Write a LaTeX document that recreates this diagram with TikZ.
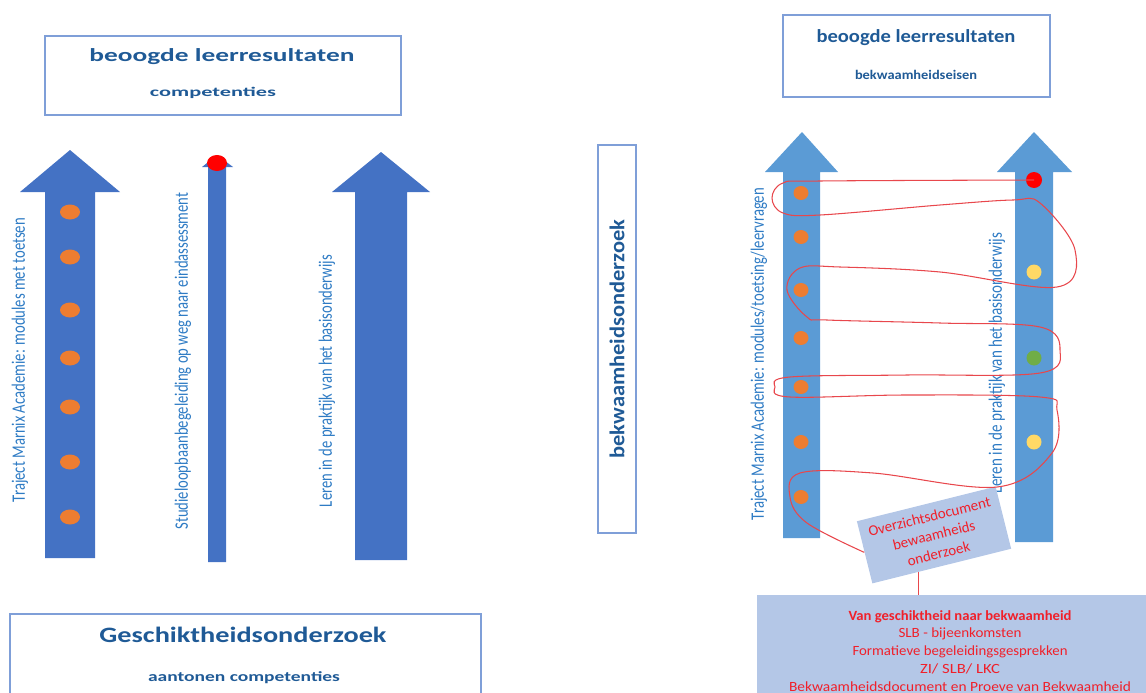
\documentclass[tikz,border=0pt]{standalone}
\usepackage{fontspec}
\setmainfont{Carlito}
\usepackage{graphicx}
\definecolor{arrowblue}{HTML}{4472C4}
\definecolor{lightarrow}{HTML}{5B9BD5}
\definecolor{dotorange}{HTML}{ED7D31}
\definecolor{dotyellow}{HTML}{FFD966}
\definecolor{dotgreen}{HTML}{70AD47}
\definecolor{titleblue}{HTML}{1F5A96}
\definecolor{labelblue}{HTML}{2E7BC4}
\definecolor{boxline}{HTML}{7F9FD8}
\definecolor{paleblue}{HTML}{B4C7E7}
\definecolor{loopred}{HTML}{E8474C}
\definecolor{redtext}{HTML}{F0202A}
\newlength\pxu
\setlength\pxu{0.02cm}
\newcommand{\wtext}[2]{\resizebox{#1\pxu}{\height}{#2}}
\newcommand{\vtext}[2]{\resizebox{#1\pxu}{1.35\height}{#2}}

\begin{document}
\begin{tikzpicture}[x=0.02cm,y=-0.02cm,
  boxframe/.style={draw=boxline, line width=0.6pt},
  ttl/.style={text=titleblue, font=\fontsize{10.5}{12}\selectfont\bfseries, inner sep=0pt},
  sub/.style={text=titleblue, font=\fontsize{7.5}{9}\selectfont\bfseries, inner sep=0pt},
  lbl/.style={text=labelblue, font=\fontsize{8}{9}\selectfont, rotate=90, inner sep=0pt},
  redtxt/.style={text=redtext, font=\fontsize{8}{10.2}\selectfont, align=center, inner sep=0pt},
  loopline/.style={draw=loopred, line width=0.6pt}]
\clip (0,0) rectangle (1146,693);

% left: three arrows
\fill [arrowblue] (45,558) -- (45,192) -- (20,192) -- (70,150) -- (120,192) -- (95,192) -- (95,558) -- cycle;
\fill [arrowblue] (208,562) -- (208,167) -- (202,167) -- (217,155) -- (233,167) -- (226,167) -- (226,562) -- cycle;
\fill [arrowblue] (355,560) -- (355,192) -- (332,192) -- (381,152) -- (430,192) -- (407,192) -- (407,560) -- cycle;

\foreach \y in {212,257,310,358,407,462,517}
  \fill [dotorange] (70,\y) ellipse [x radius=10\pxu, y radius=7.5\pxu];
\fill [red] (217,163) ellipse [x radius=10\pxu, y radius=8\pxu];

\node[lbl] (ltraj) at (20,360) {\vtext{284}{Traject Marnix Academie: modules met toetsen}};
\node[lbl] (lslb) at (183,361) {\vtext{337}{Studieloopbaanbegeleiding op weg naar eindassessment}};
\node[lbl] (lprak) at (327,381) {\vtext{252}{Leren in de praktijk van het basisonderwijs}};

\node[boxframe, minimum width=356\pxu, minimum height=79\pxu] (ltop) at (223,75.5) {};
\node[ttl] (lttl) at (222,57) {\wtext{265}{beoogde leerresultaten}};
\node[sub] (lsub) at (213,93) {\wtext{126}{competenties}};

\node[boxframe, minimum width=471\pxu, minimum height=100\pxu] (gbox) at (245.5,664) {};
\node[ttl, font=\fontsize{12.5}{14}\selectfont\bfseries] (gttl) at (243,635) {\wtext{287}{Geschiktheidsonderzoek}};
\node[sub, font=\fontsize{8}{9}\selectfont\bfseries] (gsub) at (244,678) {\wtext{192}{aantonen competenties}};

% middle
\node[boxframe, rotate=90, minimum width=388\pxu, minimum height=38\pxu, text=titleblue,
  font=\fontsize{12}{14}\selectfont\bfseries] (bko) at (617,339) {\wtext{239}{bekwaamheidsonderzoek}};

% right: two arrows
\fill [lightarrow] (783,538) -- (783,172) -- (765,172) -- (802,132) -- (838,172) -- (820,172) -- (820,538) -- cycle;
\fill [lightarrow] (1015,542) -- (1015,172) -- (997,172) -- (1034,132) -- (1072,172) -- (1053,172) -- (1053,542) -- cycle;

\foreach \y in {193,237,290,338,387,442,497}
  \fill [dotorange] (801,\y) ellipse [x radius=7.5\pxu, y radius=7\pxu];
\coordinate (rdot) at (1034,180);
\fill [red] (rdot) ellipse [x radius=8\pxu, y radius=8\pxu];
\fill [dotyellow] (1034,272) ellipse [x radius=7.5\pxu, y radius=7.5\pxu];
\fill [dotgreen] (1034,358) ellipse [x radius=7.5\pxu, y radius=7.5\pxu];
\fill [dotyellow] (1034,442) ellipse [x radius=7.5\pxu, y radius=7.5\pxu];

\node[lbl] (rtraj) at (759,354) {\vtext{332}{Traject Marnix Academie: modules/toetsing/leervragen}};
\node[lbl] (rprak) at (997,363) {\vtext{260}{Leren in de praktijk van het basisonderwijs}};

\node[boxframe, minimum width=267\pxu, minimum height=82\pxu] (rtop) at (916.5,56) {};
\node[ttl] (rttl) at (916,38) {\wtext{199}{beoogde leerresultaten}};
\node[sub] (rsub) at (916,75) {\wtext{122}{bekwaamheidseisen}};

\node[fill=paleblue, minimum width=400\pxu, minimum height=100\pxu, inner sep=0pt] (bvb) at (957,645) {};
\node[redtxt] (bvbtxt) at (960,651) {\wtext{223}{\bfseries Van geschiktheid naar bekwaamheid}\\
  \wtext{123}{SLB - bijeenkomsten}\\
  \wtext{215}{Formatieve begeleidingsgesprekken}\\
  \wtext{80}{ZI/ SLB/ LKC}\\
  \wtext{342}{Bekwaamheidsdocument en Proeve van Bekwaamheid}};

\node[fill=paleblue, rotate=14, minimum width=143\pxu, minimum height=64\pxu, redtxt,
  font=\fontsize{8.5}{10.8}\selectfont] (ovz) at (934,535) {Overzichtsdocument\\bewaamheids\\onderzoek};

% red loop
\draw [loopline] plot [smooth, tension=0.6] coordinates {(rdot) (820,181) (783,183) (772,198) (783,213)
  (820,215) (940,205) (1013,200) (1040,203) (1075,250) (1057,287) (940,272) (840,267) (800,268)
  (787,290) (807,317) (827,320) (940,323) (1040,327) (1060,350) (1040,373) (907,375) (790,377)
  (775,387) (790,397) (907,395) (1040,397) (1057,410) (1052,453) (997,487) (873,473) (800,473)
  (790,497) (807,523) (ovz.west)};
\draw [loopline] (ovz.233) -- (ovz.233 |- bvb.north);

\end{tikzpicture}
\end{document}
